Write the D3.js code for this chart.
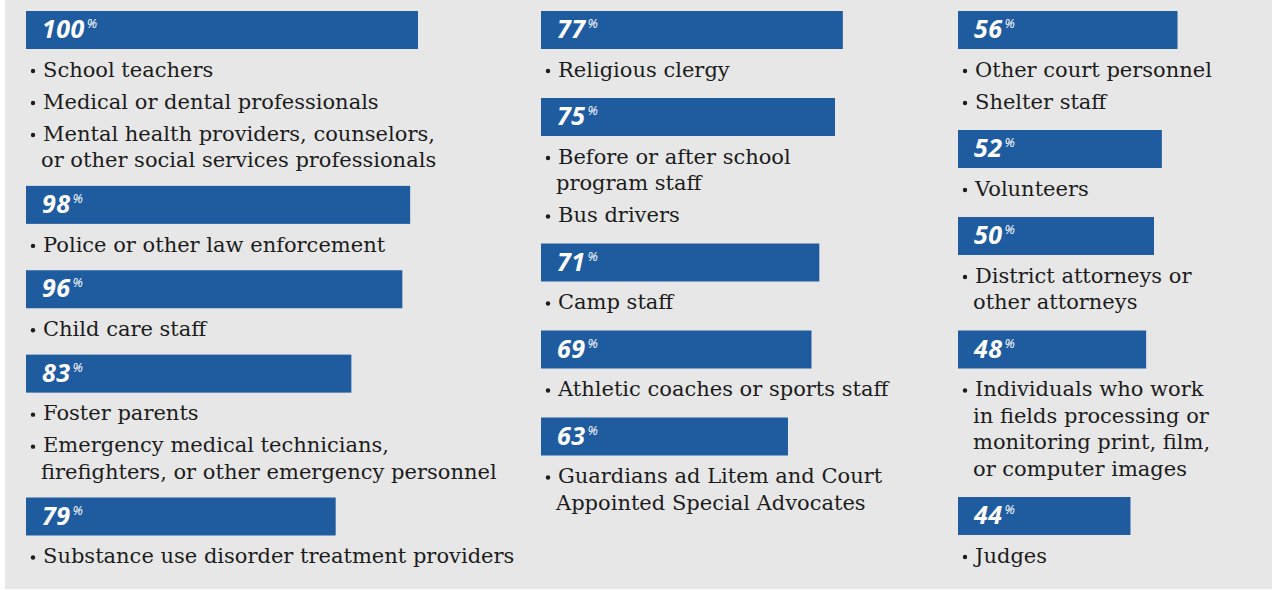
<!DOCTYPE html>
<html>
<head>
<meta charset="utf-8">
<script src="https://cdn.jsdelivr.net/npm/d3@7"></script>
<style>
    body { margin: 0; background: #ffffff; }
    svg { display: block; }
</style>
</head>
<body>
<div id="visualizer"></div>
<script>
// Data: percentages for each group, one array per column
const col1Values = [100, 98, 96, 83, 79];
const col2Values = [77, 75, 71, 69, 63];
const col3Values = [56, 52, 50, 48, 44];

// Labels: each group is a list of bullet items, each item a list of wrapped lines
const col1Labels = [
    [["School teachers"], ["Medical or dental professionals"], ["Mental health providers, counselors,", "or other social services professionals"]],
    [["Police or other law enforcement"]],
    [["Child care staff"]],
    [["Foster parents"], ["Emergency medical technicians,", "firefighters, or other emergency personnel"]],
    [["Substance use disorder treatment providers"]]
];
const col2Labels = [
    [["Religious clergy"]],
    [["Before or after school", "program staff"], ["Bus drivers"]],
    [["Camp staff"]],
    [["Athletic coaches or sports staff"]],
    [["Guardians ad Litem and Court", "Appointed Special Advocates"]]
];
const col3Labels = [
    [["Other court personnel"], ["Shelter staff"]],
    [["Volunteers"]],
    [["District attorneys or", "other attorneys"]],
    [["Individuals who work", "in fields processing or", "monitoring print, film,", "or computer images"]],
    [["Judges"]]
];

function onDOMContentLoaded() {
    const width = 1282,
        height = 590;

    const columns = [
        { x: 26, values: col1Values, labels: col1Labels },
        { x: 541, values: col2Values, labels: col2Labels },
        { x: 958, values: col3Values, labels: col3Labels }
    ];

    // layout props
    const layout = {
        top: 11,
        bottom: 556,
        barHeight: 38,
        firstGap: 20.5,
        itemStep: 32,
        wrapStep: 26.5,
        afterGap: 28.5
    };

    const svg = d3.select("#visualizer")
        .append("svg")
        .attr("width", width)
        .attr("height", height);

    // panel
    svg.append("rect")
        .attr("x", 5)
        .attr("y", 0)
        .attr("width", 1267)
        .attr("height", 589)
        .attr("fill", "#e7e7e7");

    // bar length scale
    const xScale = d3.scaleLinear()
        .domain([0, 100])
        .range([0, 392]);

    columns.forEach(col => {
        // height the content takes without the gaps between groups
        let content = 0;
        col.labels.forEach(group => {
            content += layout.barHeight + layout.firstGap;
            group.forEach((item, i) => {
                if (i > 0) content += layout.itemStep;
                content += (item.length - 1) * layout.wrapStep;
            });
        });
        const gaps = col.labels.length - 1;
        const gap = Math.min(layout.afterGap, (layout.bottom - layout.top - content) / gaps);

        let y = layout.top;
        col.values.forEach((value, gi) => {
            const g = svg.append("g");

            g.append("rect")
                .attr("x", col.x)
                .attr("y", y)
                .attr("width", xScale(value))
                .attr("height", layout.barHeight)
                .attr("fill", "#1f5c9f");

            const pct = g.append("text")
                .attr("x", col.x + 16)
                .attr("y", y + 27)
                .attr("fill", "#ffffff")
                .attr("font-family", "'Open Sans', sans-serif")
                .attr("font-weight", 700)
                .attr("font-style", "italic")
                .attr("font-size", 25)
                .attr("letter-spacing", 0.5)
                .text(value);
            pct.append("tspan")
                .attr("font-size", 13)
                .attr("font-weight", 400)
                .attr("dx", 2)
                .attr("dy", -10)
                .text("%");

            let lineY = y + layout.barHeight + layout.firstGap;
            col.labels[gi].forEach((item, i) => {
                if (i > 0) lineY += layout.itemStep;
                item.forEach((line, li) => {
                    if (li > 0) lineY += layout.wrapStep;
                    if (li === 0) {
                        g.append("circle")
                            .attr("cx", col.x + 7)
                            .attr("cy", lineY + 1.5)
                            .attr("r", 2.2)
                            .attr("fill", "#1c1c1c");
                    }
                    g.append("text")
                        .attr("x", col.x + (li === 0 ? 17 : 15))
                        .attr("y", lineY)
                        .attr("dy", "0.35em")
                        .attr("fill", "#1c1c1c")
                        .attr("font-family", "'DejaVu Serif', serif")
                        .attr("font-size", 21)
                        .text(line);
                });
            });
            y = lineY + gap;
        });
    });
}

document.addEventListener("DOMContentLoaded", onDOMContentLoaded);
</script>
</body>
</html>
